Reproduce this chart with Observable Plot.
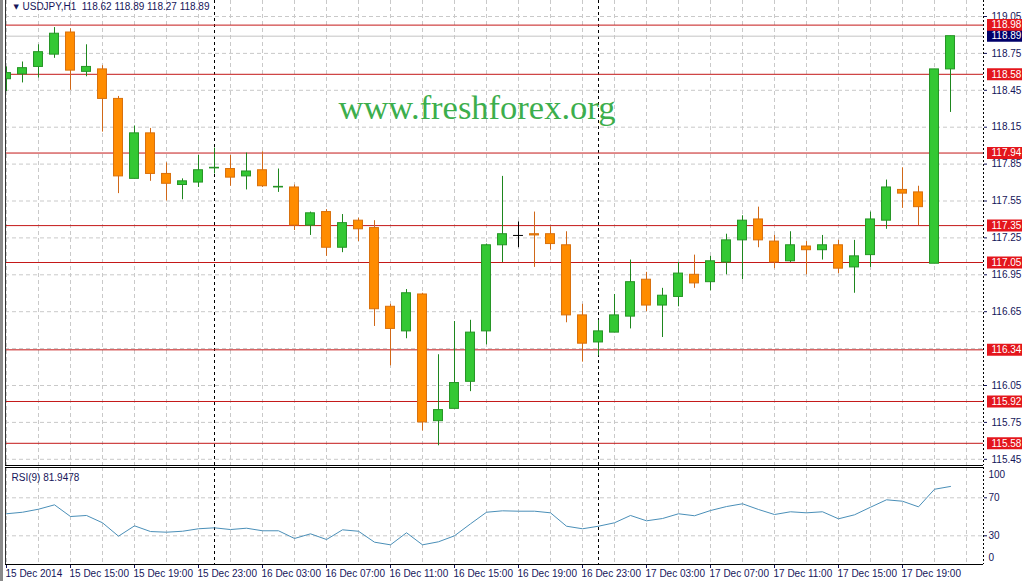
<!DOCTYPE html>
<html><head><meta charset="utf-8">
<script src="https://cdn.jsdelivr.net/npm/d3@7"></script>
<script src="https://cdn.jsdelivr.net/npm/@observablehq/plot@0.6"></script>
<style>
html,body{margin:0;padding:0;background:#fff;}
#wrap{position:relative;width:1027px;height:581px;overflow:hidden;}
#edge{position:absolute;left:0;top:0;width:3px;height:581px;background:#8a8a8a;}
#main{position:absolute;left:0;top:0;}
#rsi{position:absolute;left:0;top:466px;}
</style></head><body>
<div id="wrap"><div id="main"></div><div id="rsi"></div><div id="edge"></div></div>
<script>
// ---- data (hourly bars, 15 Dec 2014 11:00 -> 17 Dec 2014 22:00) ----
const open  = [118.54,118.58,118.64,118.74,118.92,118.60,118.62,118.38,117.73,118.10,
               117.77,117.68,117.70,117.815,117.81,117.75,117.80,117.66,117.66,117.35,
               117.46,117.17,117.39,117.33,116.69,116.49,116.79,115.76,115.86,116.08,
               116.49,117.19,117.27,117.28,117.28,117.19,116.62,116.40,116.48,116.61,
               116.91,116.70,116.77,116.95,116.89,117.05,117.23,117.40,117.22,117.06,
               117.18,117.15,117.19,117.01,117.11,117.39,117.64,117.62,117.04,118.62];
const high  = [118.64,118.68,118.82,118.96,118.95,118.82,118.65,118.40,118.16,118.14,
               117.86,117.73,117.92,117.98,117.92,117.94,117.95,117.81,117.68,117.46,
               117.48,117.44,117.41,117.39,116.71,116.83,116.80,116.30,116.57,116.58,
               117.20,117.75,117.38,117.46,117.34,117.30,116.71,116.58,116.79,117.07,
               116.97,116.84,117.05,117.11,117.10,117.28,117.43,117.50,117.27,117.30,
               117.22,117.27,117.23,117.23,117.46,117.72,117.82,117.67,118.62,118.89];
const low   = [118.44,118.51,118.55,118.71,118.45,118.56,118.11,117.61,117.73,117.71,
               117.55,117.56,117.66,117.77,117.67,117.64,117.66,117.62,117.31,117.27,
               117.10,117.13,117.22,116.53,116.21,116.43,115.68,115.56,115.86,116.00,
               116.38,117.05,117.17,117.01,117.15,116.56,116.24,116.29,116.48,116.51,
               116.65,116.44,116.69,116.84,116.82,116.95,116.91,117.17,117.00,117.05,
               116.95,117.07,116.96,116.80,117.01,117.32,117.49,117.35,117.04,118.27];
const close = [118.59,118.63,118.76,118.91,118.61,118.64,118.38,117.75,118.10,117.77,
               117.69,117.71,117.80,117.82,117.74,117.79,117.67,117.665,117.35,117.45,
               117.17,117.37,117.32,116.67,116.51,116.80,115.75,115.85,116.07,116.48,
               117.19,117.28,117.27,117.27,117.20,116.62,116.39,116.49,116.62,116.89,
               116.70,116.78,116.96,116.88,117.06,117.23,117.39,117.23,117.05,117.19,
               117.15,117.19,117.00,117.10,117.40,117.66,117.61,117.50,118.62,118.89];
const rsi   = [53.2,54.8,58.0,62.6,50.3,51.4,43.7,29.6,40.5,34.5,
               33.8,34.8,37.4,38.4,36.6,38.0,35.3,35.3,27.2,32.1,
               26.1,36.3,34.8,23.3,20.5,33.2,20.5,23.7,30.0,42.6,
               54.8,56.3,55.9,55.9,54.2,40.1,37.4,40.1,43.7,51.4,
               45.8,48.2,53.2,51.1,56.6,60.8,63.7,57.7,52.4,55.3,
               54.2,55.3,47.9,52.1,60.1,67.9,66.4,60.5,79.0,81.9478];
const levels = [118.98,118.58,117.94,117.35,117.05,116.34,115.92,115.58];
const bid = 118.89;
const priceTicks = [115.45,115.75,116.05,116.65,116.95,117.25,117.55,117.85,118.15,118.45,118.75,119.05];
const priceGrid = [115.45,115.75,116.05,116.35,116.65,116.95,117.25,117.55,117.85,118.15,118.45,118.75,119.05];
const xLabels = ["15 Dec 2014","15 Dec 15:00","15 Dec 19:00","15 Dec 23:00","16 Dec 03:00","16 Dec 07:00",
                 "16 Dec 11:00","16 Dec 15:00","16 Dec 19:00","16 Dec 23:00","17 Dec 03:00","17 Dec 07:00",
                 "17 Dec 11:00","17 Dec 15:00","17 Dec 19:00"];
const xLabelBars = [0,4,8,12,16,20,24,28,32,36,40,44,48,52,56];
const dayStartBars = [13,37];
const gridBars = [0,2,4,6,8,10,12,14,16,18,20,22,24,26,28,30,32,34,36,38,40,42,44,46,48,50,52,54,56,58,60];
const symbol = "USDJPY,H1";
const rsiLabel = "RSI(9) 81.9478";
const watermark = "www.freshforex.org";

// ---- build ----
const candles = open.map((o,i) => ({i, open:o, high:high[i], low:low[i], close:close[i]}));
const dir = d => d.close > d.open ? "up" : d.close < d.open ? "down" : "flat";
const wickC = {up:"#1e861e", down:"#d06818", flat:"#000000"};
const fillC = {up:"#34c834", down:"#ff8c00", flat:"#000000"};
const edgeC = {up:"#259425", down:"#d8700c", flat:"#000000"};
const bw = 0.28;
const xDomain = [-0.0625, 61.0625];
const yDomain = [115.3996, 119.1801];
const rsiDomain = [-0.2, 101.9];
const txt = "#15155a";
const gridStyle = {stroke:"#c9c9c9", strokeDasharray:"4,3"};
const last = candles[candles.length-1];
const title = `${symbol}  ${last.open.toFixed(2)} ${last.high.toFixed(2)} ${last.low.toFixed(2)} ${last.close.toFixed(2)}`;
const baseStyle = {fontFamily:"'Liberation Sans', Arial, sans-serif", fontSize:"10px", color:txt, background:"transparent", overflow:"visible"};

const main = Plot.plot({
  width:1027, height:466, marginLeft:5, marginRight:44, marginTop:0, marginBottom:1,
  style: baseStyle,
  color:{type:"identity"},
  x:{type:"linear", domain:xDomain, axis:null},
  y:{domain:yDomain, axis:"right", ticks:priceTicks, tickFormat:d3.format(".2f"), tickSize:3, tickPadding:5},
  marks:[
    Plot.ruleX(gridBars, gridStyle),
    Plot.ruleY(priceGrid, gridStyle),
    Plot.ruleX(dayStartBars, {stroke:"#000", strokeDasharray:"3,3"}),
    Plot.ruleY([bid], {stroke:"#c4c4c4"}),
    Plot.ruleY(levels, {stroke:"#c41818"}),
    Plot.text([watermark], {frameAnchor:"top-left", dx:333, dy:107, textAnchor:"start", lineAnchor:"middle",
      fontFamily:"'Liberation Serif', 'Times New Roman', serif", fontSize:34.5, fill:"#3cae4c"}),
    Plot.ruleX(candles, {x:"i", y1:"low", y2:"high", stroke:d => wickC[dir(d)], clip:true}),
    Plot.rect(candles.filter(d => d.open !== d.close), {x1:d => d.i - bw, x2:d => d.i + bw, y1:"open", y2:"close",
      fill:d => fillC[dir(d)], stroke:d => edgeC[dir(d)], clip:true}),
    Plot.ruleY(candles.filter(d => d.open === d.close), {y:"close", x1:d => d.i - bw - 0.03, x2:d => d.i + bw + 0.03, stroke:"#000"}),
    Plot.ruleX([xDomain[0]], {stroke:"#333"}),
    Plot.ruleX([xDomain[1]], {stroke:"#000", strokeDasharray:"2,2"}),
    Plot.ruleY([yDomain[0]], {stroke:"#000"}),
    Plot.ruleY(levels, {stroke:"#e4161c", strokeWidth:12, insetLeft:982, insetRight:-39}),
    Plot.text(levels, {y:d => d, text:d => d.toFixed(2), frameAnchor:"right", dx:8, textAnchor:"start", fill:"#ffffff"}),
    Plot.ruleY([bid], {stroke:"#00006a", strokeWidth:11, insetLeft:982, insetRight:-39}),
    Plot.text([bid], {y:d => d, text:d => d.toFixed(2), frameAnchor:"right", dx:8, textAnchor:"start", fill:"#ffffff"}),
    Plot.text(["\u25BC"], {frameAnchor:"top-left", dx:8, dy:6, textAnchor:"start", lineAnchor:"middle", fontSize:7, fill:txt, fontFamily:"DejaVu Sans"}),
    Plot.text([title], {frameAnchor:"top-left", dx:17, dy:6, textAnchor:"start", lineAnchor:"middle", fill:txt})
  ]
});
document.getElementById("main").appendChild(main);

const idx = rsi.map((v,i) => i);
const rsiPlot = Plot.plot({
  width:1027, height:115, marginLeft:5, marginRight:44, marginTop:1, marginBottom:17,
  style: baseStyle,
  x:{type:"linear", domain:xDomain, ticks:xLabelBars, tickSize:4, tickFormat:() => ""},
  y:{domain:rsiDomain, axis:"right", ticks:[30,70], tickSize:3, tickPadding:2, tickFormat:d3.format("d")},
  marks:[
    Plot.ruleX(gridBars, gridStyle),
    Plot.ruleY([30,70], gridStyle),
    Plot.ruleX(dayStartBars, {stroke:"#000", strokeDasharray:"3,3"}),
    Plot.line(idx, {x:i => i, y:i => rsi[i], stroke:"#4a8fb8", strokeWidth:1}),
    Plot.ruleX([xDomain[0]], {stroke:"#333"}),
    Plot.ruleX([xDomain[1]], {stroke:"#000", strokeDasharray:"2,2"}),
    Plot.ruleY([rsiDomain[0]], {stroke:"#000"}),
    Plot.ruleY([rsiDomain[1]], {stroke:"#000"}),
    Plot.text([100], {y:d => d, text:d => String(d), frameAnchor:"right", dx:5, dy:5.5, textAnchor:"start", fill:txt}),
    Plot.text([0], {y:d => d, text:d => String(d), frameAnchor:"right", dx:5, dy:-6.5, textAnchor:"start", fill:txt}),
    Plot.text([rsiLabel], {frameAnchor:"top-left", dx:6, dy:10, textAnchor:"start", lineAnchor:"middle", fill:txt}),
    Plot.text(xLabels, {x:(d,i) => xLabelBars[i], text:d => d, frameAnchor:"bottom", dy:9, dx:-1, textAnchor:"start", lineAnchor:"middle", fill:txt})
  ]
});
document.getElementById("rsi").appendChild(rsiPlot);
</script>
</body></html>
